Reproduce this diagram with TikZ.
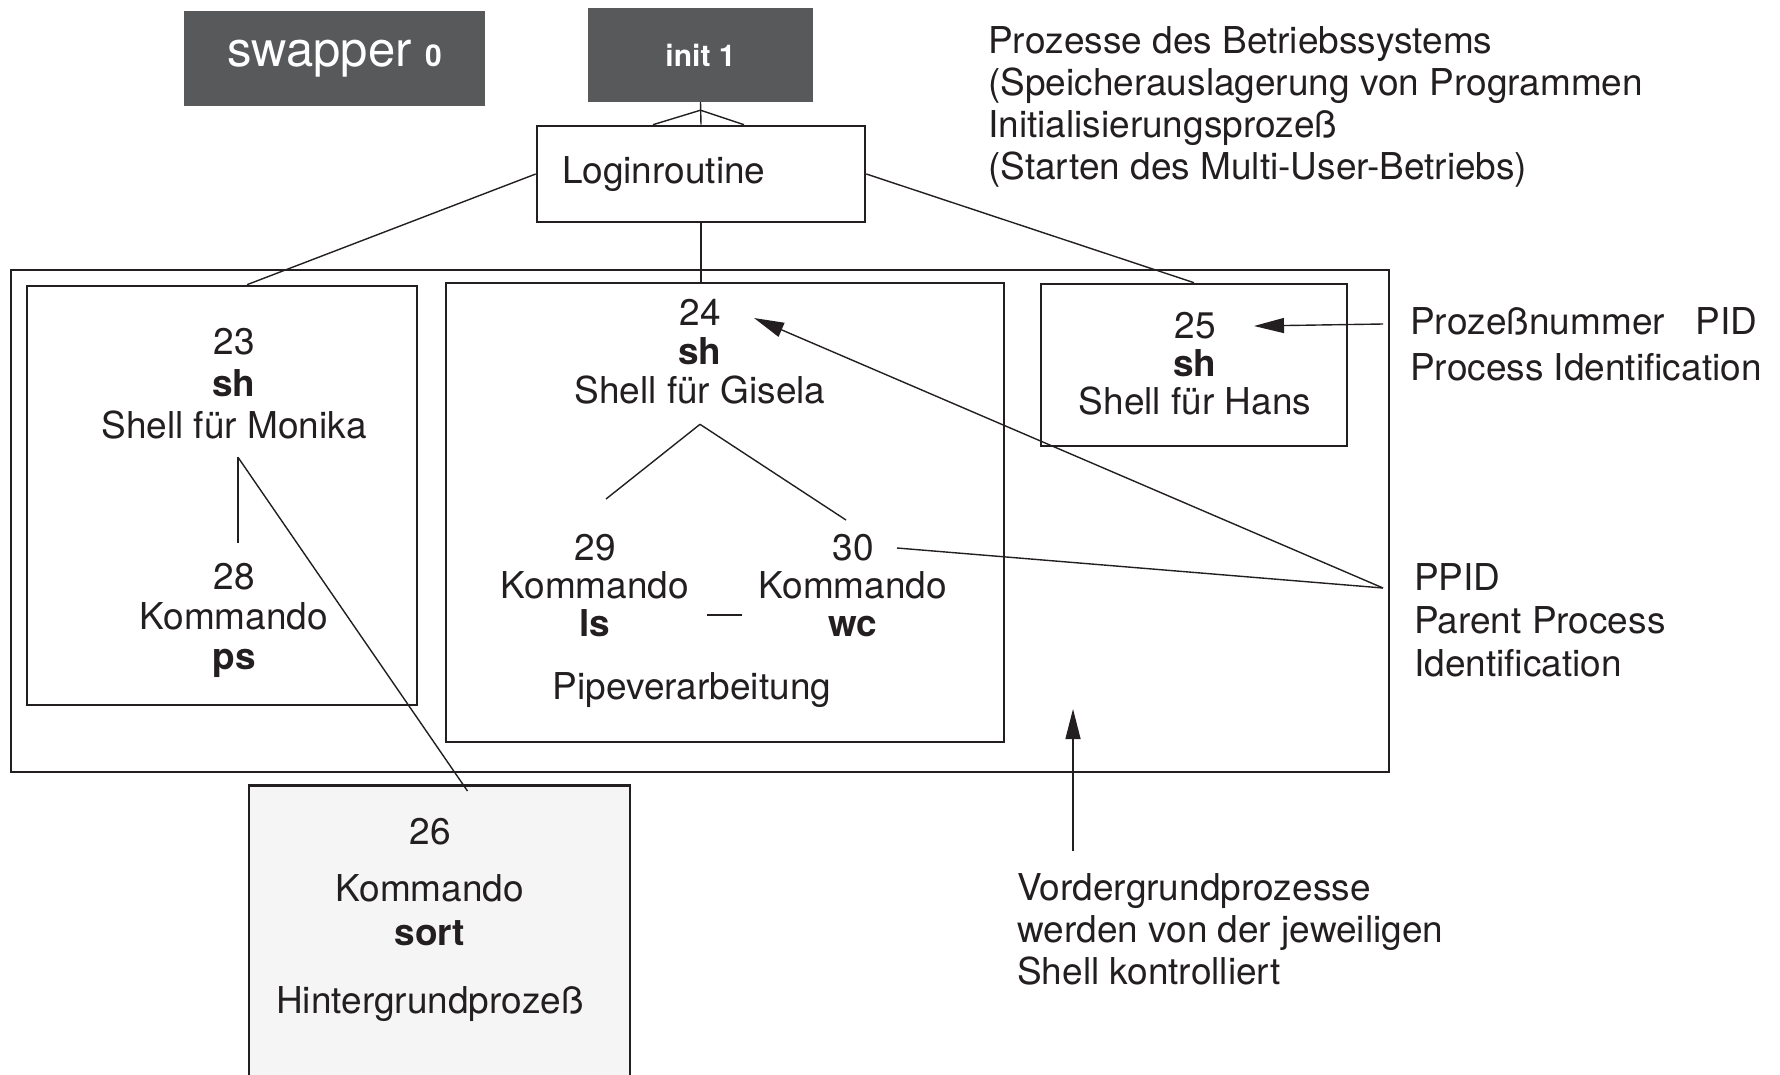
\documentclass[tikz,border=0pt]{standalone}
\usepackage{fontspec}
\setmainfont{TeX Gyre Heros}
\usetikzlibrary{arrows.meta, positioning, calc}
\definecolor{cink}{HTML}{231F20}
\definecolor{cdark}{HTML}{58595B}
\definecolor{cpale}{HTML}{F5F5F5}
\tikzset{
  sysbox/.style={fill=cdark, text=white, inner sep=0pt},
  procbox/.style={draw=cink, line width=2.6pt, inner sep=0pt, font=\fontsize{37}{40}\selectfont, text=cink},
  framebox/.style={draw=cink, line width=1.2pt, inner sep=0pt},
  txt/.style={font=\fontsize{37}{40}\selectfont, text=cink, align=center, inner sep=0pt},
  sidenote/.style={txt, align=left},
  link/.style={draw=cink, line width=1.4pt},
  arrow/.style={link, -{Triangle[length=30pt, width=15pt]}},
}

\begin{document}
\begin{tikzpicture}[x=1pt, y=-1pt]
  \clip (0,0) rectangle (1780,1074);
  % processes of the operating system
  \node[sysbox, minimum width=301pt, minimum height=95pt] (swapper) at (334.5,58.5)
    {\fontsize{49}{52}\selectfont swapper {\fontsize{30}{32}\selectfont\bfseries 0}};
  \node[sysbox, minimum width=225pt, minimum height=94pt, font=\fontsize{30}{34}\selectfont\bfseries] (init) at (700.5,55) {init 1};
  \node[procbox, minimum width=328pt, minimum height=96pt, text width=278pt, inner xsep=25pt, align=left] (login) at (701,174) {Loginroutine};
  \draw[link] (init.south) -- (login.north);
  \draw[link] ($(init.south)+(0,8)$) -- ($(login.north)+(-48,0)$);
  \draw[link] ($(init.south)+(0,8)$) -- ($(login.north)+(43,0)$);
  \node[sidenote, anchor=north west, font=\fontsize{37}{42}\selectfont] (systext) at (988,26)
    {Prozesse des Betriebssystems\\(Speicherauslagerung von Programmen\\Initialisierungsprozeß\\(Starten des Multi-User-Betriebs)};
  % foreground processes
  \node[framebox, minimum width=1378pt, minimum height=502pt] (vorder) at (700,521) {};
  \node[procbox, minimum width=390pt, minimum height=419pt] (mon) at (222,495.5) {};
  \node[procbox, minimum width=558pt, minimum height=459pt] (gis) at (725,512.5) {};
  \node[procbox, minimum width=306pt, minimum height=162pt] (hans) at (1194,365) {};
  \draw[link] (login.west) -- ($(mon.north)+(25,0)$);
  \draw[link] (login.south) -- (login.south |- gis.north);
  \draw[link] (login.east) -- (hans.north);
  % Monika
  \node[txt, anchor=north, font=\fontsize{37}{42}\selectfont] (m23) at (234,328) {23\\\textbf{sh}\\Shell für Monika};
  \node[txt, anchor=north, font=\fontsize{37}{40}\selectfont] (m28) at (234,563) {28\\Kommando\\\textbf{ps}};
  \coordinate (mfork) at ($(m23.south)+(4,18)$);
  \draw[link] (mfork) -- ($(m28.north)+(4,-20)$);
  % Gisela
  \node[txt, anchor=north, font=\fontsize{37}{39}\selectfont] (g24) at (700,299) {24\\\textbf{sh}\\Shell für Gisela};
  \coordinate (gfork) at ($(g24.south)+(0,20)$);
  \node[txt, anchor=north, font=\fontsize{37}{38}\selectfont] (g29) at (595,534) {29\\Kommando\\\textbf{ls}};
  \node[txt, anchor=north, font=\fontsize{37}{38}\selectfont] (g30) at (853,534) {30\\Kommando\\\textbf{wc}};
  \draw[link] (gfork) -- ($(g29.north)+(11,-35)$);
  \draw[link] (gfork) -- ($(g30.north)+(-7,-14)$);
  \draw[link] ($(g29.south east)+(18,-22)$) -- ($(g30.south west)+(-17,-22)$);
  \node[txt] (pipe) at (692,690) {Pipeverarbeitung};
  % Hans
  \node[txt, anchor=north, font=\fontsize{37}{38}\selectfont] (h25) at (1195,312) {25\\\textbf{sh}\\Shell für Hans};
  % background process
  \node[procbox, fill=cpale, minimum width=381pt, minimum height=330pt, anchor=north] (sort) at (439.5,784) {};
  \node[txt, anchor=north] (s26) at (430,818) {26\\[17pt]Kommando\\[4pt]\textbf{sort}\\[28pt]Hintergrundprozeß};
  \draw[link] (mfork) -- ($(sort.north)+(28,7)$);
  % notes on the right
  \node[sidenote, anchor=north west] (pid) at (1410,307) {Prozeßnummer~~~PID\\[6pt]Process Identification};
  \draw[arrow] ($(pid.north west)+(-27,17)$) -- ($(h25.north)+(59,14)$);
  \node[sidenote, anchor=north west, font=\fontsize{37}{43}\selectfont] (ppidtext) at (1414,563) {PPID\\Parent Process\\Identification};
  \coordinate (ppid) at ($(ppidtext.north west)+(-31,25)$);
  \draw[arrow] (ppid) -- ($(g24.north)+(54,19)$);
  \draw[link] (ppid) -- ($(g30.north)+(44,14)$);
  \node[sidenote, anchor=north west, font=\fontsize{37}{42}\selectfont] (vg) at (1017,873) {Vordergrundprozesse\\werden von der jeweiligen\\Shell kontrolliert};
  \draw[arrow] ($(vg.north west)+(56,-22)$) -- ($(vg.north west)+(56,-164)$);
\end{tikzpicture}
\end{document}
